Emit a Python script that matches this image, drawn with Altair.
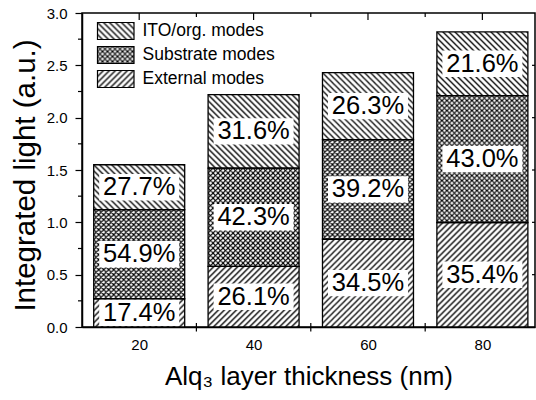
import urllib.parse
import altair as alt

# ---------------- data ----------------
thickness = [20, 40, 60, 80]
totals = [1.55, 2.22, 2.43, 2.82]
pct_external = [17.4, 26.1, 34.5, 35.4]
pct_substrate = [54.9, 42.3, 39.2, 43.0]
pct_ito = [27.7, 31.6, 26.3, 21.6]
modes = ["External modes", "Substrate modes", "ITO/org. modes"]
legend_order = ["ITO/org. modes", "Substrate modes", "External modes"]
y_major = [0.0, 0.5, 1.0, 1.5, 2.0, 2.5, 3.0]
y_minor = [0.25, 0.75, 1.25, 1.75, 2.25, 2.75]
x_labels = [20, 40, 60, 80]
x_minor = [30, 50, 70]

# ---------------- geometry / style ----------------
W, H = 453, 314
X_DOM = [10, 89.2]
Y_DOM = [0, 3.0]
BAR_W = 91
FONT = "Liberation Sans"
PX_PER_Y = H / (Y_DOM[1] - Y_DOM[0])
HALF = BAR_W / 2 * (X_DOM[1] - X_DOM[0]) / W   # half bar width in data units

STYLE = {  # hatch kind, tile size (px), line width (px)
    "External modes": ("/", 6, 1.35),
    "Substrate modes": ("x", 5, 1.2),
    "ITO/org. modes": ("\\", 6, 1.35),
}


def hatch_url(w, h, kind, P, lw):
    fwd = f"M0,{P}L{P},0M-1,1L1,-1M{P-1},{P+1}L{P+1},{P-1}"
    bwd = f"M0,0L{P},{P}M-1,{P-1}L1,{P+1}M{P-1},-1L{P+1},1"
    d = {"/": fwd, "\\": bwd, "x": fwd + bwd}[kind]
    svg = (
        f'<svg xmlns="http://www.w3.org/2000/svg" width="{w:.3f}" height="{h:.3f}">'
        f'<defs><pattern id="p" width="{P}" height="{P}" patternUnits="userSpaceOnUse">'
        f'<path d="{d}" stroke="black" stroke-width="{lw}" fill="none"/></pattern></defs>'
        f'<rect width="100%" height="100%" fill="white"/>'
        f'<rect width="100%" height="100%" fill="url(#p)"/></svg>'
    )
    return "data:image/svg+xml;charset=utf-8," + urllib.parse.quote(svg, safe="")


records = []
for t, tot, pe, ps, pi in zip(thickness, totals, pct_external, pct_substrate, pct_ito):
    lo = 0.0
    for m, p in zip(modes, [pe, ps, pi]):
        hi = lo + tot * p / 100.0
        kind, P, lw = STYLE[m]
        records.append({
            "thickness": t, "mode": m, "lo": lo, "hi": hi,
            "mid": (lo + hi) / 2, "label": f"{p:.1f}%",
            "url": hatch_url(BAR_W, (hi - lo) * PX_PER_Y, kind, P, lw),
        })
        lo = hi

xs = alt.Scale(domain=X_DOM, nice=False, zero=False)
ys = alt.Scale(domain=Y_DOM, nice=False)

X_AXIS = alt.Axis(
    values=x_labels, ticks=False, labelFontSize=15, labelFont=FONT, labelColor="black",
    labelPadding=10, domainColor="black", domainWidth=1.5, grid=False,
    title="Alq₃ layer thickness (nm)", titleFont=FONT, titleFontSize=26,
    titleFontWeight="normal", titleColor="black", titlePadding=11)
Y_AXIS = alt.Axis(
    values=y_major, format=".1f", tickSize=7, tickWidth=1.2, tickColor="black",
    labelFontSize=15, labelFont=FONT, labelColor="black", labelPadding=8,
    domainColor="black", domainWidth=1.5, grid=False,
    title="Integrated light (a.u.)", titleFont=FONT, titleFontSize=29.5,
    titleFontWeight="normal", titleColor="black", titlePadding=6, titleY=162)


def X(field):
    return alt.X(field, scale=xs, axis=X_AXIS)


def Y(field):
    return alt.Y(field, scale=ys, axis=Y_AXIS)


base = alt.Chart(alt.Data(values=records)).transform_calculate(
    x0=f"datum.thickness - {HALF}", x1=f"datum.thickness + {HALF}"
)

fills = base.mark_image(aspect=False).encode(
    x=X("x0:Q"), x2="x1:Q", y=Y("hi:Q"), y2="lo:Q", url="url:N",
)

outlines = base.mark_bar(fillOpacity=0, stroke="black", strokeWidth=1.3).encode(
    x=X("x0:Q"), x2="x1:Q", y=Y("lo:Q"), y2="hi:Q",
)

boxes = base.mark_point(
    shape="M-1,-0.33H1V0.33H-1Z", size=6400, filled=True, fill="white", opacity=1, strokeWidth=0
).encode(x=X("thickness:Q"), y=Y("mid:Q"))

labels = base.mark_text(font=FONT, fontSize=25.5, color="black").encode(
    x=X("thickness:Q"), y=Y("mid:Q"), text="label:N",
)


def vals(arr):
    return alt.Data(values=[{"v": v} for v in arr])


left_minor = alt.Chart(vals(y_minor)).mark_rule(color="black", strokeWidth=1.2).encode(
    y=Y("v:Q"), x=alt.value(-4), x2=alt.value(0))
right_major = alt.Chart(vals(y_major[1:-1])).mark_rule(color="black", strokeWidth=1.2).encode(
    y=Y("v:Q"), x=alt.value(W - 3), x2=alt.value(W))
top_major = alt.Chart(vals(x_labels)).mark_rule(color="black", strokeWidth=1.2).encode(
    x=X("v:Q"), y=alt.value(0), y2=alt.value(7))
top_minor = alt.Chart(vals(x_minor)).mark_rule(color="black", strokeWidth=1.2).encode(
    x=X("v:Q"), y=alt.value(0), y2=alt.value(4))
bottom_minor = alt.Chart(vals(x_minor)).mark_rule(color="black", strokeWidth=1.2).encode(
    x=X("v:Q"), y=alt.value(H - 4), y2=alt.value(H + 4.5))

# legend (manual, inside the plot at top-left)
SW_X0, SW_X1, SW_H = 15.5, 52, 17
leg_records = []
for i, m in enumerate(legend_order):
    kind, P, lw = STYLE[m]
    leg_records.append({"mode": m, "url": hatch_url(SW_X1 - SW_X0, SW_H, kind, P, lw)})

legend_layers = []
for i, rec in enumerate(leg_records):
    y0 = 9.5 + i * 24
    d = alt.Data(values=[rec])
    legend_layers.append(alt.Chart(d).mark_image(aspect=False).encode(
        x=alt.value(SW_X0), x2=alt.value(SW_X1), y=alt.value(y0), y2=alt.value(y0 + SW_H),
        url="url:N"))
    legend_layers.append(alt.Chart(d).mark_rect(fillOpacity=0, stroke="black", strokeWidth=1.2).encode(
        x=alt.value(SW_X0), x2=alt.value(SW_X1), y=alt.value(y0), y2=alt.value(y0 + SW_H)))
    legend_layers.append(alt.Chart(d).mark_text(
        font=FONT, fontSize=17.5, color="black", align="left", baseline="middle").encode(
        x=alt.value(60.5), y=alt.value(y0 + SW_H / 2), text="mode:N"))

chart = alt.layer(
    fills, outlines, boxes, labels,
    left_minor, right_major, top_major, top_minor, bottom_minor,
    *legend_layers,
).properties(
    width=W, height=H,
    padding={"left": 82, "top": 13, "right": 1, "bottom": 73},
    autosize=alt.AutoSizeParams(type="none"),
    background="white",
).configure_view(
    stroke="black", strokeWidth=1.5,
)

chart.save("out.html", embed_options={"renderer": "svg", "actions": False})
